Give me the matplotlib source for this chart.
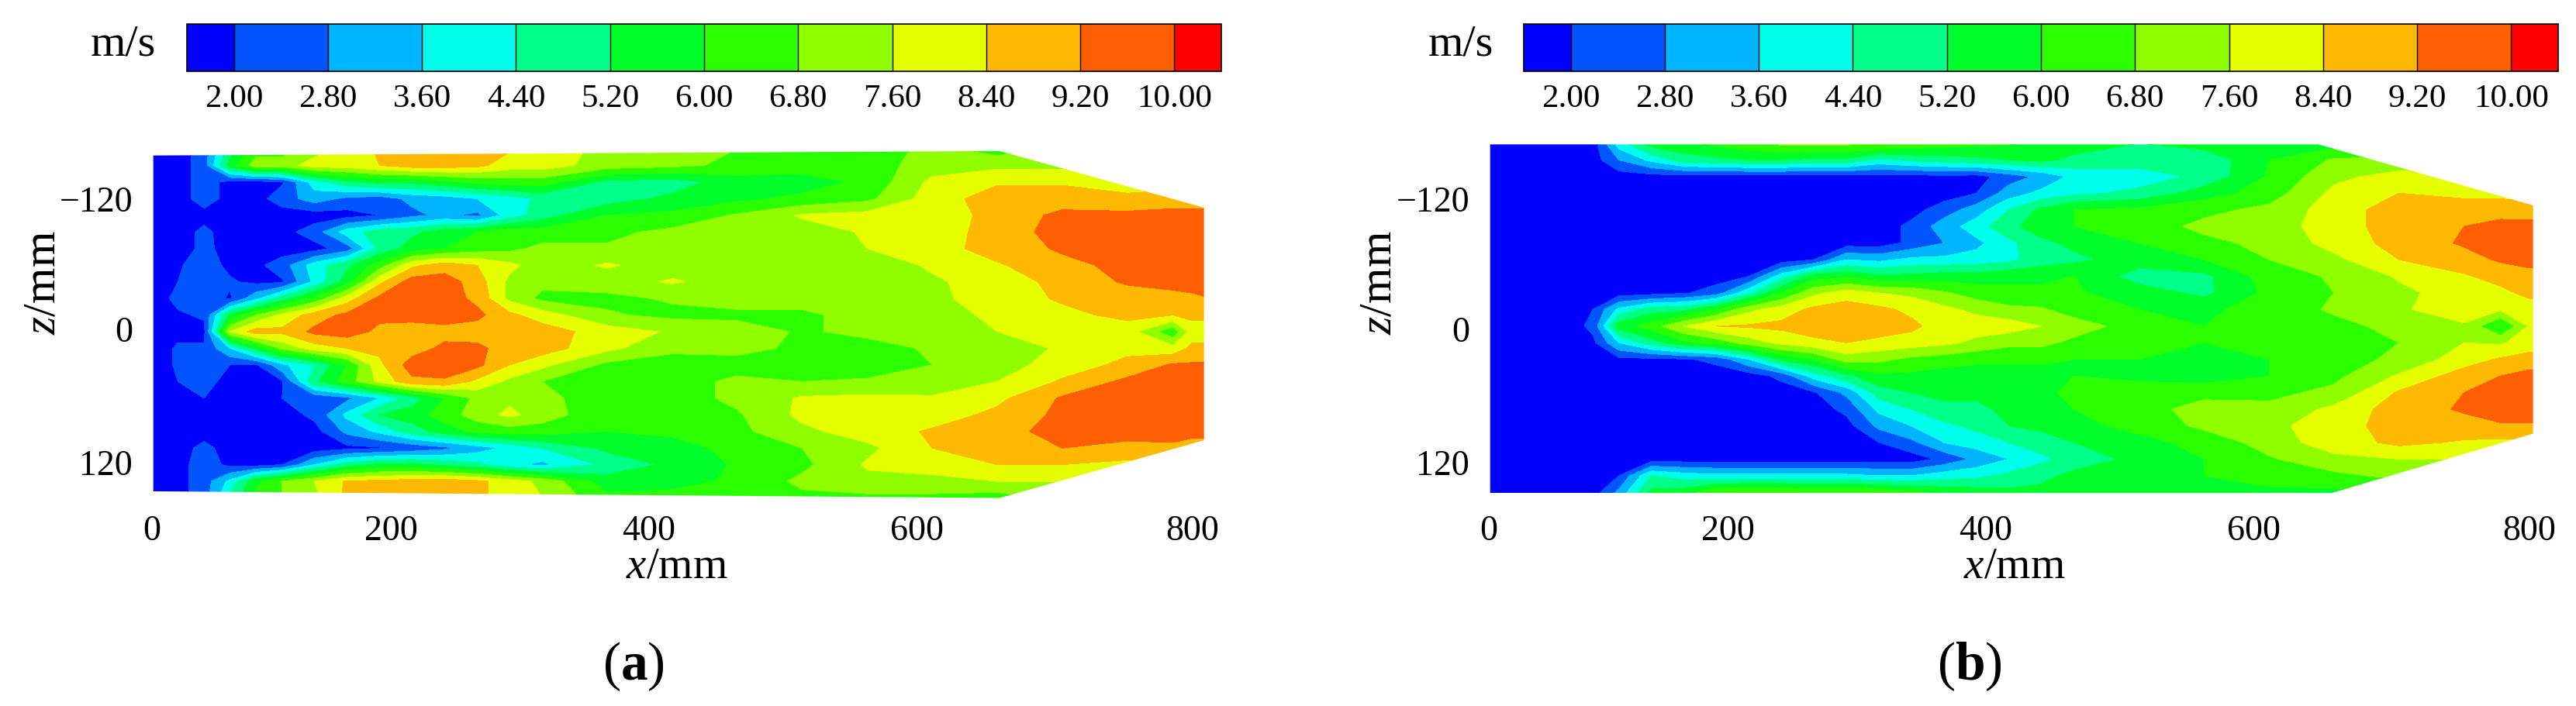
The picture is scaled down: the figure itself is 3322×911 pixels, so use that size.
import numpy as np
import matplotlib
matplotlib.use("Agg")
import matplotlib.pyplot as plt
from matplotlib.patches import Polygon

plt.rcParams["font.family"] = ["Liberation Serif", "DejaVu Serif"]
plt.rcParams["mathtext.fontset"] = "custom"
plt.rcParams["mathtext.rm"] = "Liberation Serif"
plt.rcParams["mathtext.it"] = "Liberation Serif:italic"
plt.rcParams["mathtext.bf"] = "Liberation Serif:bold"

levels = [2.0, 2.8, 3.6, 4.4, 5.2, 6.0, 6.8, 7.6, 8.4, 9.2, 10.0]
level_labels = ["2.00", "2.80", "3.60", "4.40", "5.20", "6.00", "6.80", "7.60", "8.40", "9.20", "10.00"]
band_colors = ["#0000ff", "#0055ff", "#00b4ff", "#00ffea", "#00ff88", "#00ff2a",
               "#2aff00", "#8fff00", "#e6ff00", "#ffb900", "#ff5f00", "#ff0000"]

# the labels in the picture are not evenly spaced
x_tick_pos = [0, 184, 382, 588, 800]
x_tick_labels = ["0", "200", "400", "600", "800"]
z_tick_pos = [-120, -2, 118]
z_tick_labels = ["\u2212120", "0", "120"]

# panel (a), speed, one row per z
a_x = [0, 20, 40, 60, 80, 100, 125, 150, 175, 200, 225, 250, 275, 300, 350, 400, 450, 500, 550,
       600, 650, 700, 750, 785, 800, 815]
a_z = [-165, -150, -135, -120, -105, -90, -75, -60, -45, -30, -15, 0, 15, 30, 45, 60, 75, 90, 105, 120, 135, 150]
a_speed = [
    [1.6,1.6,2.4,4.8,6.4,6.4,7.2,8.0,8.5,8.8,8.8,8.8,8.5,8.0,7.4,7.2,6.8,6.4,6.4,7.0,6.4,7.0,7.4,8.0,8.0,8.0],
    [1.6,1.6,2.4,5.6,7.2,7.2,8.0,8.0,8.4,8.8,8.8,8.6,8.0,8.0,7.2,7.0,6.6,6.4,6.4,7.2,7.4,7.4,7.4,8.0,8.0,8.0],
    [1.6,1.6,2.4,1.7,1.7,1.9,4.0,5.0,5.4,5.4,5.8,6.2,6.4,6.4,5.0,4.8,5.6,5.6,6.2,7.8,8.3,8.3,8.0,8.2,8.2,8.2],
    [1.6,1.6,2.4,1.7,1.7,2.4,3.2,2.6,2.4,3.0,3.2,3.6,4.0,4.6,4.8,5.4,5.8,6.2,6.6,8.0,8.8,8.8,8.6,8.6,8.6,8.6],
    [1.6,1.6,1.7,1.6,1.6,1.6,1.6,1.7,2.0,2.6,3.0,2.6,4.0,4.8,6.0,6.2,6.9,7.7,7.9,7.9,8.7,9.4,9.4,9.6,9.6,9.6],
    [1.6,1.6,2.2,1.6,1.6,1.7,2.4,4.0,4.8,5.0,5.6,6.0,6.4,6.4,6.6,7.0,7.5,7.2,7.7,7.9,8.8,9.5,9.6,9.6,9.6,9.6],
    [1.6,1.6,2.2,1.7,1.6,1.6,1.7,2.4,4.6,5.6,6.0,6.4,6.6,7.0,6.9,7.2,7.2,7.2,7.6,8.0,8.8,9.3,9.6,9.6,9.6,9.6],
    [1.6,1.9,2.4,1.8,1.8,2.4,4.0,5.0,6.4,8.2,8.8,8.4,7.8,7.2,7.7,7.2,7.2,7.2,7.2,7.7,8.3,9.0,9.4,9.6,9.6,9.6],
    [1.6,2.0,2.4,2.1,1.8,1.9,3.8,5.6,8.2,9.6,9.6,8.8,7.4,7.0,7.2,7.7,7.2,7.2,7.2,7.5,7.9,8.7,9.3,9.4,9.4,9.6],
    [1.6,2.2,2.4,1.9,3.4,4.8,6.2,8.0,9.4,9.6,9.6,9.0,7.4,6.6,6.6,6.9,7.2,7.2,7.0,7.4,8.0,8.5,8.8,9.0,9.1,9.2],
    [1.6,1.9,2.1,5.4,6.8,7.8,8.8,9.4,9.4,9.5,9.6,9.4,8.6,8.0,6.9,6.6,6.6,6.6,7.2,7.2,7.8,8.2,8.6,8.4,8.6,8.6],
    [1.6,1.8,1.8,7.6,8.8,8.6,9.4,9.6,9.0,8.8,8.9,8.8,8.8,8.8,8.0,7.5,7.2,6.7,7.0,7.2,7.6,8.0,8.0,6.2,8.0,8.0],
    [1.6,2.1,2.1,3.6,5.4,7.0,8.0,8.4,8.6,8.8,9.4,9.4,8.8,8.8,7.8,7.0,7.1,6.6,6.5,6.9,7.2,7.7,8.2,7.9,8.6,8.6],
    [1.6,2.1,2.2,2.0,1.9,3.4,4.4,6.0,8.2,9.6,9.6,9.4,8.4,7.8,6.6,6.4,6.4,6.4,6.4,6.8,7.2,8.0,8.6,9.3,9.3,9.3],
    [1.6,2.0,2.2,1.8,1.8,1.9,5.0,6.4,7.8,9.0,9.1,8.2,7.4,6.8,6.4,6.4,7.0,6.8,6.9,7.1,7.6,8.5,9.4,9.6,9.6,9.6],
    [1.6,1.8,2.0,1.7,1.9,2.0,2.2,2.6,3.6,4.8,6.0,7.0,7.4,7.0,6.4,6.4,7.0,7.7,7.8,7.7,8.2,9.3,9.6,9.6,9.6,9.6],
    [1.6,1.7,1.9,1.6,1.6,1.6,2.2,3.8,5.2,5.6,6.4,7.2,7.8,7.2,6.2,6.2,6.7,7.8,8.0,8.0,8.6,9.4,9.6,9.6,9.6,9.6],
    [1.6,1.6,1.7,1.6,1.6,1.6,1.7,3.0,3.8,4.8,5.6,6.2,6.4,6.4,6.0,6.2,6.6,7.4,8.0,8.5,8.8,9.6,9.6,9.6,9.6,9.6],
    [1.6,1.7,2.2,1.7,1.6,1.6,1.6,1.8,1.9,2.2,2.6,3.2,3.8,4.4,5.4,5.6,6.3,6.8,7.4,8.4,8.8,9.2,8.9,9.0,8.6,8.6],
    [1.6,1.7,2.4,1.8,1.7,2.0,3.6,4.8,5.4,5.4,5.0,4.6,3.8,3.4,4.6,5.4,6.1,6.6,7.7,7.9,8.4,8.4,8.2,8.4,8.2,8.2],
    [1.6,1.7,2.4,3.8,5.8,6.8,7.6,8.5,8.6,8.8,8.9,8.6,8.0,7.4,5.6,5.8,6.1,7.0,7.4,7.4,7.6,7.6,7.6,8.0,7.6,7.6],
    [1.6,1.7,2.4,4.6,6.2,6.8,7.4,8.6,8.7,8.8,8.8,8.6,8.0,7.6,6.2,6.2,6.4,6.6,6.6,6.6,6.4,7.0,7.0,7.0,7.0,7.0],
]
a_outline = [(1, -159), (652, -163), (809, -112), (809, 98), (652, 150), (1, 144)]

# panel (b)
b_x = [0, 60, 80, 100, 125, 150, 175, 200, 225, 250, 275, 300, 325, 350, 375, 400, 425, 450, 500, 550,
       600, 650, 700, 750, 778, 800, 815]
b_z = [-170, -155, -140, -125, -110, -95, -80, -65, -50, -35, -20, -5, 10, 25, 40, 55, 70, 85, 100, 115, 130, 145]
b_speed = [
    [1.6,1.6,1.6,4.0,5.6,5.8,6.2,6.6,7.0,7.0,7.0,7.0,6.6,6.4,6.2,6.1,5.8,5.6,5.2,5.6,5.6,5.6,6.0,6.0,6.0,6.0,6.0],
    [1.6,1.6,1.6,2.8,3.8,4.8,5.0,5.2,5.2,5.0,5.0,4.2,4.6,4.8,5.0,5.2,5.4,5.0,4.8,4.6,6.0,6.9,7.0,7.0,7.2,7.4,7.4],
    [1.6,1.6,1.6,1.6,1.7,1.7,1.7,1.7,1.7,1.7,1.7,1.7,1.7,1.8,1.7,2.4,3.0,3.8,4.0,4.6,6.1,7.4,7.9,7.8,7.8,8.0,8.0],
    [1.6,1.6,1.6,1.6,1.6,1.6,1.6,1.6,1.6,1.6,1.6,1.6,1.6,1.6,2.0,3.2,3.8,4.2,4.6,5.6,6.4,7.8,8.4,8.2,8.2,8.2,8.2],
    [1.6,1.6,1.6,1.6,1.6,1.6,1.6,1.6,1.6,1.6,1.6,1.6,1.7,2.4,3.2,4.4,5.4,6.0,6.2,6.6,7.0,8.0,8.8,8.8,8.8,8.6,8.6],
    [1.6,1.6,1.6,1.6,1.6,1.6,1.6,1.6,1.6,1.6,1.6,1.6,2.2,3.2,4.0,5.0,5.6,6.0,6.4,7.0,7.2,8.0,8.8,9.2,9.5,9.6,9.6],
    [1.6,1.6,1.6,1.6,1.6,1.6,1.6,1.6,1.6,1.6,1.6,1.6,2.2,2.8,3.4,4.2,5.0,5.4,6.0,6.6,7.0,7.9,8.7,9.3,9.6,9.6,9.6],
    [1.6,1.6,1.6,1.6,1.6,1.6,1.6,1.6,1.6,2.0,3.6,3.4,3.8,3.8,3.9,4.2,4.8,5.0,5.6,6.0,6.8,7.4,8.4,8.9,9.3,9.5,9.5],
    [1.6,1.6,1.6,1.6,1.6,1.6,1.6,2.0,4.0,5.6,5.8,5.4,5.4,5.6,5.6,5.8,5.8,6.0,4.8,5.0,6.4,6.9,7.7,8.3,8.7,8.9,8.9],
    [1.6,1.6,1.6,1.6,1.7,1.9,2.4,4.2,6.0,7.4,8.0,7.6,7.4,6.9,6.4,6.2,6.2,6.1,5.6,5.0,6.2,6.8,7.4,8.0,8.2,8.6,8.6],
    [1.6,1.6,2.0,3.8,4.8,5.0,6.0,7.4,8.0,8.6,8.8,8.6,8.2,7.8,7.4,7.0,6.9,6.4,6.0,5.8,6.4,6.9,7.5,8.0,7.7,8.0,8.0],
    [1.6,1.6,2.2,5.6,6.4,7.6,8.4,8.5,8.6,8.8,8.8,8.8,8.6,8.0,8.0,8.0,7.6,7.2,6.4,6.0,6.4,6.6,7.0,7.5,5.9,7.7,7.7],
    [1.6,1.6,1.8,3.6,4.8,5.8,6.3,7.2,7.8,8.2,8.4,8.2,8.0,7.8,7.4,7.0,7.0,6.6,6.2,6.0,6.2,6.5,6.8,7.6,7.5,8.0,8.0],
    [1.6,1.6,1.6,1.8,1.8,1.9,2.2,3.6,5.4,6.0,7.2,7.0,6.6,6.4,6.2,6.2,6.2,6.0,6.0,5.8,6.0,6.4,7.0,8.0,8.5,8.7,8.7],
    [1.6,1.6,1.6,1.6,1.6,1.6,1.6,1.6,2.2,4.0,5.0,5.8,5.8,5.6,5.6,5.6,5.6,6.0,5.8,5.6,6.0,6.6,7.7,8.8,9.2,9.5,9.5],
    [1.6,1.6,1.6,1.6,1.6,1.6,1.6,1.6,1.6,1.9,3.0,4.8,5.2,5.4,5.4,5.6,5.8,6.2,6.4,6.5,6.6,7.0,8.5,9.2,9.6,9.6,9.6],
    [1.6,1.6,1.6,1.6,1.6,1.6,1.6,1.6,1.6,1.6,2.2,3.8,4.4,5.0,5.0,5.4,5.6,6.0,6.4,7.2,7.0,7.8,8.8,9.3,9.6,9.6,9.6],
    [1.6,1.6,1.6,1.6,1.6,1.6,1.6,1.6,1.6,1.6,1.7,3.0,3.6,4.2,4.6,5.2,5.4,5.8,6.2,7.0,7.4,8.0,8.8,8.9,9.1,9.1,9.1],
    [1.6,1.6,1.6,1.6,1.6,1.6,1.6,1.6,1.6,1.6,1.6,2.0,2.6,3.6,4.0,4.4,4.8,5.2,5.8,6.2,7.2,8.0,8.6,8.3,8.2,8.2,8.2],
    [1.6,1.6,1.6,1.6,1.6,1.6,1.6,1.6,1.6,1.6,1.6,1.6,1.6,2.2,3.0,3.6,4.2,4.8,5.4,6.0,6.7,7.4,7.6,7.6,7.6,7.6,7.6],
    [1.6,1.6,1.6,2.0,4.4,4.0,3.8,3.8,3.8,3.8,3.8,3.6,3.6,4.0,4.2,4.6,5.0,5.4,5.6,6.0,6.4,6.6,7.0,7.0,7.0,7.0,7.0],
    [1.6,1.6,1.6,3.0,5.4,5.6,6.7,6.8,6.8,6.6,6.6,6.6,6.2,5.8,5.6,5.4,5.4,5.4,5.6,5.6,5.8,5.8,6.0,6.0,6.0,6.0,6.0],
]
b_outline = [(1, -169), (638, -169), (803, -114), (803, 92), (644, 147), (1, 147)]

W, H = 3322, 911
fig = plt.figure(figsize=(W/100, H/100), dpi=100)


def px_axes(left, right, top, bottom):
    return fig.add_axes([left/W, 1-bottom/H, (right-left)/W, (bottom-top)/H])


def panel(x0, bar_left, bar_right, xs, zs, speed, outline):
    # 1.677 px per mm in x, 1.43 px per mm in z, z=0 at y=428
    ax = px_axes(x0, x0 + 1.677*815, 428 - 1.43*175, 428 + 1.43*155)
    ax.set_xlim(0, 815)
    ax.set_ylim(155, -175)
    cf = ax.contourf(xs, zs, np.array(speed), levels=levels, colors=band_colors, extend="both")
    cf.set_clip_path(Polygon(outline, transform=ax.transData))
    for s in ax.spines.values():
        s.set_visible(False)
    ax.set_xticks(x_tick_pos, x_tick_labels)
    ax.set_yticks(z_tick_pos, z_tick_labels)
    ax.tick_params(axis="x", length=0, pad=11, labelsize=33)
    ax.tick_params(axis="y", length=0, pad=18, labelsize=33)

    cax = px_axes(bar_left, bar_right, 31, 92)
    cb = fig.colorbar(cf, cax=cax, orientation="horizontal", extend="both", extendfrac=0.05,
                      extendrect=True, drawedges=True, ticks=levels)
    cb.ax.set_xticklabels(level_labels)
    cb.ax.tick_params(length=0, pad=12, labelsize=31, which="both")
    cb.ax.minorticks_off()
    cb.outline.set_linewidth(1.2)
    cb.dividers.set_linewidth(1.0)
    return ax


panel(196, 241, 1575, a_x, a_z, a_speed, a_outline)
panel(1920, 1965, 3299, b_x, b_z, b_speed, b_outline)


def label(px, py, s, size, **kw):
    fig.text(px/W, 1-py/H, s, fontsize=size, ha="center", va="center", **kw)


label(159, 58, "m/s", 42)
label(1884, 58, "m/s", 42)
label(873, 732, r"$\mathit{x}$/mm", 41)
label(2598, 732, r"$\mathit{x}$/mm", 41)
label(57, 365, r"$\mathit{z}$/mm", 43, rotation=90)
label(1780, 365, r"$\mathit{z}$/mm", 43, rotation=90)

for cx, letter in [(817, "a"), (2540, "b")]:
    label(cx, 860, "(" + r"$\mathbf{" + letter + "}$" + ")", 50)

fig.savefig("out.png", dpi=100, facecolor="white")
